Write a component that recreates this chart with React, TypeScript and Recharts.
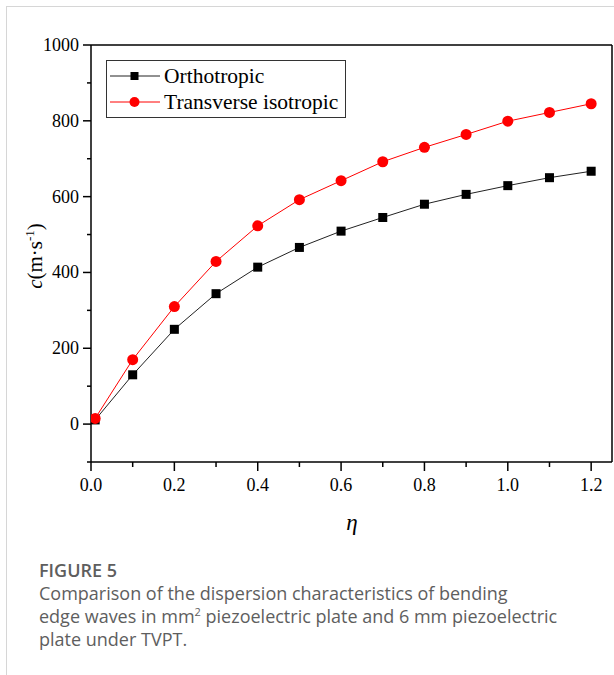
import React from "react";
import { LineChart, Line, XAxis, YAxis, ReferenceLine } from "recharts";

const etaValues = [0.01, 0.1, 0.2, 0.3, 0.4, 0.5, 0.6, 0.7, 0.8, 0.9, 1.0, 1.1, 1.2];
const orthotropic = [11, 130, 250, 344, 414, 466, 509, 545, 580, 606, 629, 650, 667];
const transverse = [15, 170, 310, 429, 523, 592, 642, 692, 730, 764, 799, 822, 845];
const xTicks = [0, 0.1, 0.2, 0.3, 0.4, 0.5, 0.6, 0.7, 0.8, 0.9, 1.0, 1.1, 1.2];
const yTicks = [-100, 0, 100, 200, 300, 400, 500, 600, 700, 800, 900, 1000];
const seriesNames = ["Orthotropic", "Transverse isotropic"];

const data = etaValues.map((eta, i) => ({
  eta,
  ortho: orthotropic[i],
  trans: transverse[i],
}));

const SERIF = "'Liberation Serif', 'Times New Roman', serif";

const XTick = (props: any) => {
  const { x, y, payload } = props;
  const v = payload.value as number;
  const major = Math.round(v * 10) % 2 === 0;
  return (
    <g>
      <line x1={x} x2={x} y1={y} y2={y + (major ? 9 : 5)} stroke="#000" strokeWidth={1.5} />
      {major && (
        <text x={x} y={y + 29} textAnchor="middle" fontFamily={SERIF} fontSize={18} fill="#000">
          {v.toFixed(1)}
        </text>
      )}
    </g>
  );
};

const YTick = (props: any) => {
  const { x, y, payload } = props;
  const v = payload.value as number;
  const major = v >= 0 && v % 200 === 0;
  return (
    <g>
      <line x1={x - (major ? 8 : 4)} x2={x} y1={y} y2={y} stroke="#000" strokeWidth={1.5} />
      {major && (
        <text x={x - 12} y={y + 6} textAnchor="end" fontFamily={SERIF} fontSize={18} fill="#000">
          {v}
        </text>
      )}
    </g>
  );
};

const SquareDot = (props: any) => {
  const { cx, cy, index } = props;
  return <rect key={`sq-${index}`} x={cx - 4.5} y={cy - 4.5} width={9} height={9} fill="#000" />;
};

const CircleDot = (props: any) => {
  const { cx, cy, index } = props;
  return <circle key={`ci-${index}`} cx={cx} cy={cy} r={5.5} fill="#ff0000" />;
};

export default function App() {
  return (
    <div
      style={{
        position: "absolute",
        left: 0,
        top: 0,
        width: 614,
        height: 675,
        background: "#fff",
        overflow: "hidden",
      }}
    >
      <div
        style={{
          position: "absolute",
          left: 6,
          top: 6,
          width: 620,
          height: 700,
          borderLeft: "1px solid #d6d6d6",
          borderTop: "1px solid #d6d6d6",
        }}
      />
      <div style={{ position: "absolute", left: 0, top: 0 }}>
        <LineChart
          width={614}
          height={540}
          data={data}
          margin={{ top: 45, right: 2, bottom: 0, left: 0 }}
        >
          <XAxis
            dataKey="eta"
            type="number"
            domain={[0, 1.25]}
            ticks={xTicks}
            interval={0}
            height={78}
            tickSize={0}
            tickMargin={0}
            tickLine={false}
            tick={<XTick />}
            axisLine={{ stroke: "#000", strokeWidth: 1.5 }}
            allowDataOverflow
          />
          <YAxis
            type="number"
            domain={[-100, 1000]}
            ticks={yTicks}
            interval={0}
            width={91}
            tickSize={0}
            tickMargin={0}
            tickLine={false}
            tick={<YTick />}
            axisLine={{ stroke: "#000", strokeWidth: 1.5 }}
            allowDataOverflow
          />
          <ReferenceLine y={1000} stroke="#000" strokeWidth={1.5} />
          <ReferenceLine x={1.25} stroke="#000" strokeWidth={1.5} />
          <Line
            dataKey="ortho"
            name={seriesNames[0]}
            stroke="#222"
            strokeWidth={1}
            dot={<SquareDot />}
            isAnimationActive={false}
          />
          <Line
            dataKey="trans"
            name={seriesNames[1]}
            stroke="#ff0000"
            strokeWidth={1}
            dot={<CircleDot />}
            isAnimationActive={false}
          />
        </LineChart>
      </div>

      {/* Legend */}
      <div
        style={{
          position: "absolute",
          left: 106,
          top: 60,
          width: 240,
          height: 58,
          border: "1px solid #333",
          boxSizing: "border-box",
          fontFamily: SERIF,
          fontSize: 21.5,
          color: "#000",
        }}
      >
        {seriesNames.map((name, i) => (
          <div
            key={name}
            style={{
              position: "absolute",
              left: 2,
              top: 3 + i * 26,
              height: 24,
              display: "flex",
              alignItems: "center",
              whiteSpace: "nowrap",
            }}
          >
            <svg width={52} height={24} style={{ display: "block" }}>
              <line x1={1} x2={51} y1={12} y2={12} stroke={i === 0 ? "#222" : "#ff0000"} strokeWidth={1} />
              {i === 0 ? (
                <rect x={21.5} y={8} width={8} height={8} fill="#000" />
              ) : (
                <circle cx={25.5} cy={12} r={5} fill="#ff0000" />
              )}
            </svg>
            <span style={{ marginLeft: 3, lineHeight: "24px" }}>{name}</span>
          </div>
        ))}
      </div>

      {/* Y axis title */}
      <div
        style={{
          position: "absolute",
          left: 35,
          top: 256,
          transform: "translate(-50%, -50%) rotate(-90deg)",
          fontFamily: SERIF,
          fontSize: 21,
          whiteSpace: "nowrap",
          color: "#000",
        }}
      >
        <i>c</i>(m·s<sup style={{ fontSize: 13 }}>-1</sup>)
      </div>

      {/* X axis title */}
      <div
        style={{
          position: "absolute",
          left: 352,
          top: 523,
          transform: "translate(-50%, -50%)",
          fontFamily: SERIF,
          fontSize: 23,
          fontStyle: "italic",
          color: "#000",
        }}
      >
        η
      </div>

      {/* Caption */}
      <div
        style={{
          position: "absolute",
          left: 39,
          top: 559,
          width: 570,
          fontFamily: "'Open Sans', 'Noto Sans', sans-serif",
          fontSize: 18,
          lineHeight: "23px",
          color: "#5e5e5e",
        }}
      >
        <div style={{ fontWeight: 600 }}>FIGURE 5</div>
        <div>Comparison of the dispersion characteristics of bending</div>
        <div style={{ whiteSpace: "nowrap" }}>
          edge waves in mm<sup style={{ fontSize: 11, lineHeight: 0 }}>2</sup> piezoelectric plate and 6 mm piezoelectric
        </div>
        <div>plate under TVPT.</div>
      </div>
    </div>
  );
}
